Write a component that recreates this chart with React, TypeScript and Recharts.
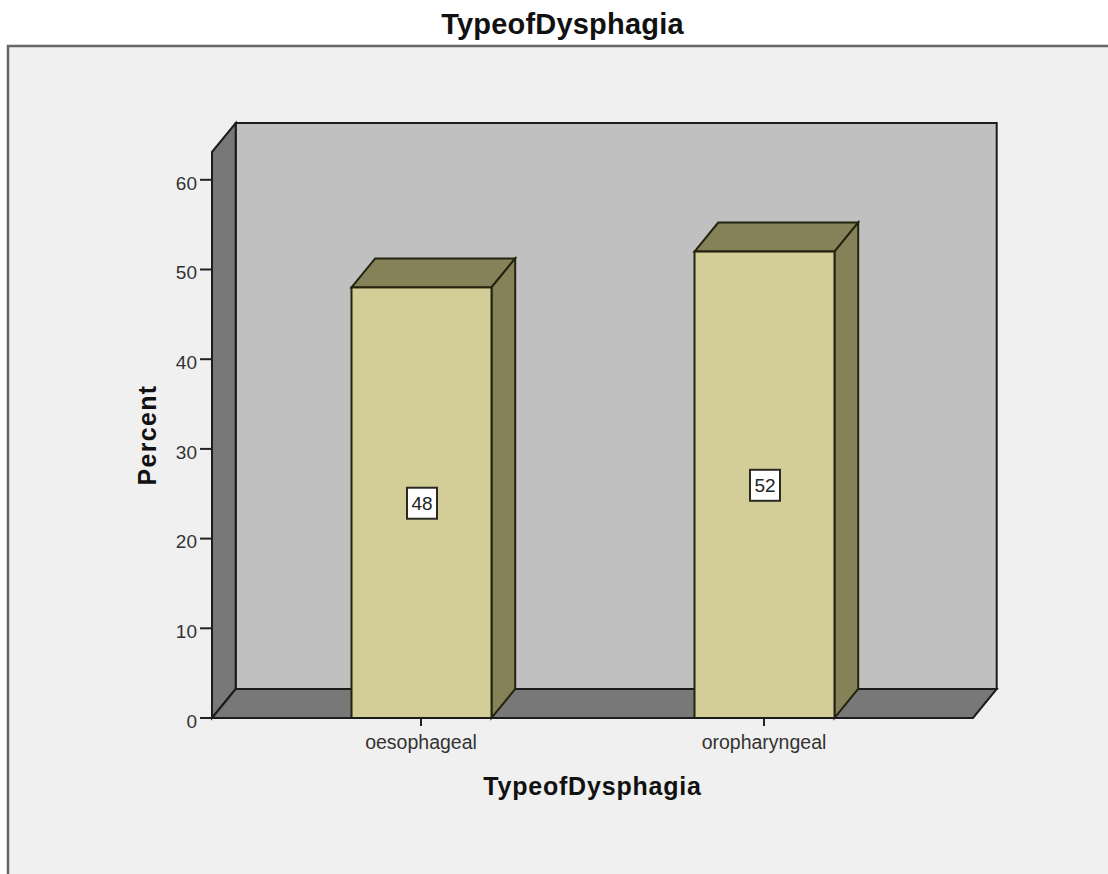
import React from "react";
import { BarChart, Bar, XAxis, YAxis, LabelList, usePlotArea } from "recharts";

const categories = ["oesophageal", "oropharyngeal"];
const percentValues = [48, 52];
const yTicks = [0, 10, 20, 30, 40, 50, 60];
const chartTitle = "TypeofDysphagia";
const xTitle = "TypeofDysphagia";
const yTitle = "Percent";

const rows = categories.map((name, i) => ({ name, percent: percentValues[i] }));

const DX = 23.7;
const DY = 29;
const INK = "#1c1c1c";
const BAR_INK = "#24230f";
const FONT = "'Liberation Sans', Arial, sans-serif";

function Backdrop() {
  const p = usePlotArea();
  if (!p) return null;
  const L = p.x;
  const R = p.x + p.width;
  const T = p.y;
  const B = p.y + p.height;
  const pts = (a: number[][]) => a.map((q) => q.join(",")).join(" ");
  return (
    <g>
      <rect x={8} y={46} width={1120} height={860} fill="#f0f0f0" stroke="#666666" strokeWidth={2.5} />
      <text x={562.5} y={34} textAnchor="middle" fontFamily={FONT} fontSize={29} fontWeight={700} letterSpacing={0.2} fill="#111">
        {chartTitle}
      </text>
      <rect x={L + DX} y={T - DY} width={p.width} height={p.height} fill="#c0c0c0" stroke={INK} strokeWidth={2} />
      <polygon points={pts([[L, T], [L + DX, T - DY], [L + DX, B - DY], [L, B]])} fill="#787878" stroke={INK} strokeWidth={2} />
      <polygon points={pts([[L, B], [L + DX, B - DY], [R + DX, B - DY], [R, B]])} fill="#787878" stroke={INK} strokeWidth={2} />
    </g>
  );
}

function Bar3D(props: any) {
  const { x, y, width, height } = props;
  const r = x + width;
  const b = y + height;
  const pts = (a: number[][]) => a.map((q) => q.join(",")).join(" ");
  return (
    <g>
      <polygon points={pts([[x, y], [x + DX, y - DY], [r + DX, y - DY], [r, y]])} fill="#85825a" stroke={BAR_INK} strokeWidth={2} />
      <polygon points={pts([[r, y], [r + DX, y - DY], [r + DX, b - DY], [r, b]])} fill="#85825a" stroke={BAR_INK} strokeWidth={2} />
      <rect x={x} y={y} width={width} height={height} fill="#d3ce97" stroke={BAR_INK} strokeWidth={2} />
    </g>
  );
}

function ValueBox(props: any) {
  const { x, y, width, height, value } = props;
  const cx = x + width / 2;
  const cy = y + height / 2;
  return (
    <g>
      <rect x={cx - 14.5} y={cy - 15} width={30} height={31} fill="#ffffff" stroke="#2a2a20" strokeWidth={2} />
      <text x={cx + 0.5} y={cy + 7.5} textAnchor="middle" fontFamily={FONT} fontSize={19} fill="#222">
        {value}
      </text>
    </g>
  );
}

export default function App() {
  return (
    <div style={{ position: "absolute", left: 0, top: 0, width: 1108, height: 874, overflow: "hidden", background: "#fff" }}>
      <BarChart
        width={1108}
        height={874}
        data={rows}
        margin={{ top: 152, right: 135, bottom: 76, left: 112 }}
      >
        <Backdrop />
        <XAxis
          dataKey="name"
          height={80}
          padding={{ left: 37.5, right: 37.5 }}
          tickSize={8}
          tickMargin={9}
          tickLine={{ stroke: "#222", strokeWidth: 2 }}
          axisLine={{ stroke: INK, strokeWidth: 2 }}
          tick={{ fontFamily: FONT, fontSize: 19.5, fill: "#333" }}
          label={{ value: xTitle, position: "insideBottom", offset: 3, fontFamily: FONT, fontSize: 25, fontWeight: 700, letterSpacing: 0.8, fill: "#111" }}
        />
        <YAxis
          width={100}
          domain={[0, 63.1]}
          ticks={yTicks}
          tickSize={12}
          tickMargin={3}
          tickLine={{ stroke: "#222", strokeWidth: 2 }}
          axisLine={{ stroke: INK, strokeWidth: 2 }}
          tick={{ fontFamily: FONT, fontSize: 19, fill: "#333", dy: 3 }}
          label={{ value: yTitle, angle: -90, position: "insideLeft", offset: 35, style: { textAnchor: "middle" }, fontFamily: FONT, fontSize: 25, fontWeight: 700, letterSpacing: 1.3, fill: "#111" }}
        />
        <Bar dataKey="percent" barSize={140} isAnimationActive={false} shape={<Bar3D />}>
          <LabelList dataKey="percent" content={<ValueBox />} />
        </Bar>
      </BarChart>
    </div>
  );
}
